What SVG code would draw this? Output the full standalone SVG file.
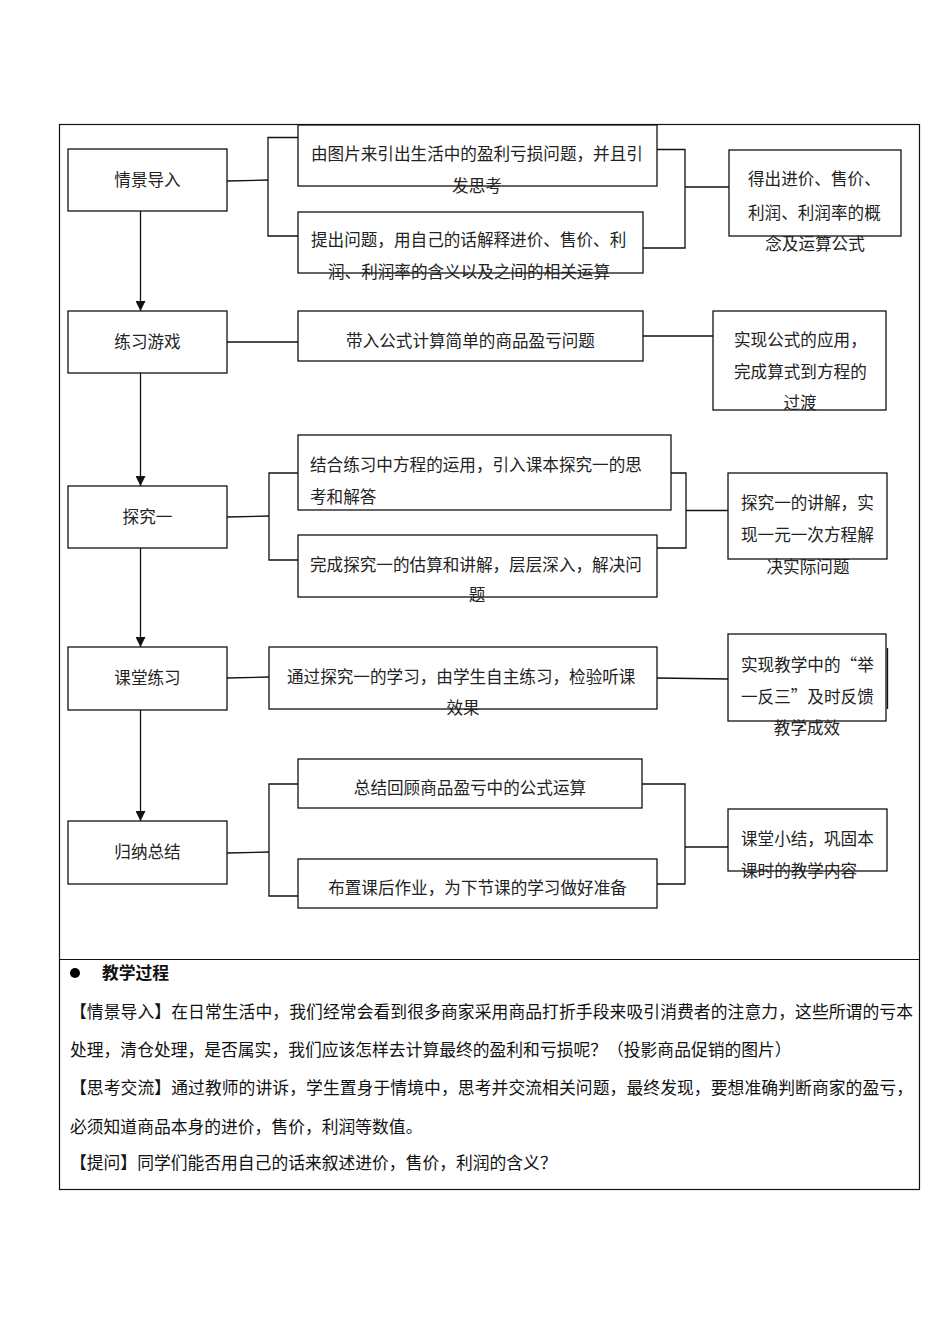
<svg xmlns="http://www.w3.org/2000/svg" width="950" height="1344" viewBox="0 0 950 1344">
<defs>
<style>
.bx{fill:#fff;stroke:#111;stroke-width:1.3}
.ln{fill:none;stroke:#111;stroke-width:1.3}
.t{font-family:"Noto Sans CJK SC","Noto Sans CJK JP",sans-serif;font-size:16.6px;fill:#222}
.c{text-anchor:middle}
.b{font-family:"Noto Sans CJK SC","Noto Sans CJK JP",sans-serif;font-size:16.8px;fill:#111}
</style>
<marker id="ah" viewBox="0 0 10 10" refX="10" refY="5" markerWidth="10" markerHeight="10" markerUnits="userSpaceOnUse" orient="auto">
<path d="M0,0 L10,5 L0,10 Z" fill="#111"/>
</marker>
</defs>
<rect width="950" height="1344" fill="#fff"/>
<g id="frame">
<rect x="59.5" y="124.5" width="860" height="1065" fill="none" stroke="#111" stroke-width="1.2"/>
<line x1="59.5" y1="959.5" x2="919.5" y2="959.5" stroke="#111" stroke-width="1.2"/>
</g>
<g id="connectors">
<line class="ln" x1="140.5" y1="211" x2="140.5" y2="311" marker-end="url(#ah)"/>
<line class="ln" x1="140.5" y1="373" x2="140.5" y2="486" marker-end="url(#ah)"/>
<line class="ln" x1="140.5" y1="548" x2="140.5" y2="647" marker-end="url(#ah)"/>
<line class="ln" x1="140.5" y1="710" x2="140.5" y2="821" marker-end="url(#ah)"/>
<polyline class="ln" points="227,181 268,180"/>
<polyline class="ln" points="298,137.5 268,137.5 268,236 298,236"/>
<polyline class="ln" points="657,149.5 685,149.5 685,248 643,248"/>
<polyline class="ln" points="685,187 729,187"/>
<polyline class="ln" points="227,342 298,342"/>
<polyline class="ln" points="643,336 713,336"/>
<polyline class="ln" points="227,517 269,516"/>
<polyline class="ln" points="298,473 269,473 269,560 298,560"/>
<polyline class="ln" points="671,473 686,473 686,548 657,548"/>
<polyline class="ln" points="686,510.5 728,510.5"/>
<polyline class="ln" points="227,678 269,677"/>
<polyline class="ln" points="657,678 728,679"/>
<polyline class="ln" points="227,853 269,852"/>
<polyline class="ln" points="298,784 269,784 269,896 298,896"/>
<polyline class="ln" points="642,784 685,784 685,884 657,884"/>
<polyline class="ln" points="685,847 728,847"/>
</g>
<g id="n-qjdr"><rect class="bx" x="68" y="149" width="159" height="62"/><text class="t c" x="147.5" y="186">情景导入</text></g>
<g id="n-lxyx"><rect class="bx" x="68" y="311" width="159" height="62"/><text class="t c" x="147.5" y="348">练习游戏</text></g>
<g id="n-tjy"><rect class="bx" x="68" y="486" width="159" height="62"/><text class="t c" x="147.5" y="523">探究一</text></g>
<g id="n-ktlx"><rect class="bx" x="68" y="647" width="159" height="63"/><text class="t c" x="147.5" y="684">课堂练习</text></g>
<g id="n-gnzj"><rect class="bx" x="68" y="821" width="159" height="63"/><text class="t c" x="147.5" y="858">归纳总结</text></g>

<g id="n-1a"><rect class="bx" x="298" y="125" width="359" height="61"/><text class="t" x="311" y="160">由图片来引出生活中的盈利亏损问题，并且引</text><text class="t c" x="477" y="192">发思考</text></g>
<g id="n-1b"><rect class="bx" x="298" y="212" width="345" height="61"/><text class="t" x="311" y="246">提出问题，用自己的话解释进价、售价、利</text><text class="t c" x="469" y="278">润、利润率的含义以及之间的相关运算</text></g>
<g id="n-1r"><rect class="bx" x="729" y="150" width="172" height="86"/><text class="t" x="748" y="185">得出进价、售价、</text><text class="t" x="748" y="219">利润、利润率的概</text><text class="t c" x="815" y="250">念及运算公式</text></g>

<g id="n-2a"><rect class="bx" x="298" y="311" width="345" height="50"/><text class="t c" x="470.5" y="347">带入公式计算简单的商品盈亏问题</text></g>
<g id="n-2r"><rect class="bx" x="713" y="311" width="173" height="99"/><text class="t" x="734" y="346">实现公式的应用，</text><text class="t" x="734" y="378">完成算式到方程的</text><text class="t c" x="800" y="409">过渡</text></g>

<g id="n-3a"><rect class="bx" x="298" y="435" width="373" height="75"/><text class="t" x="310" y="471">结合练习中方程的运用，引入课本探究一的思</text><text class="t" x="310" y="503">考和解答</text></g>
<g id="n-3b"><rect class="bx" x="298" y="535" width="359" height="62"/><text class="t" x="310" y="571">完成探究一的估算和讲解，层层深入，解决问</text><text class="t c" x="477" y="601">题</text></g>
<g id="n-3r"><rect class="bx" x="728" y="473" width="159" height="86"/><text class="t" x="741" y="509">探究一的讲解，实</text><text class="t" x="741" y="541">现一元一次方程解</text><text class="t c" x="808" y="573">决实际问题</text></g>

<g id="n-4a"><rect class="bx" x="269" y="647" width="388" height="62"/><text class="t" x="287" y="683">通过探究一的学习，由学生自主练习，检验听课</text><text class="t c" x="463" y="714">效果</text></g>
<g id="n-4r"><rect class="bx" x="728" y="634" width="158" height="87"/><line class="ln" x1="887.5" y1="648" x2="887.5" y2="709"/><text class="t" x="741" y="671">实现教学中的“举</text><text class="t" x="741" y="703">一反三”及时反馈</text><text class="t c" x="807" y="734">教学成效</text></g>

<g id="n-5a"><rect class="bx" x="298" y="759" width="344" height="49"/><text class="t c" x="470" y="794">总结回顾商品盈亏中的公式运算</text></g>
<g id="n-5b"><rect class="bx" x="298" y="859" width="359" height="49"/><text class="t c" x="477.5" y="894">布置课后作业，为下节课的学习做好准备</text></g>
<g id="n-5r"><rect class="bx" x="728" y="809" width="159" height="62"/><text class="t" x="741" y="845">课堂小结，巩固本</text><text class="t" x="741" y="877">课时的教学内容</text></g>

<g id="process">
<circle cx="75" cy="973" r="5" fill="#000"/>
<text class="b" x="102" y="979" font-weight="bold">教学过程</text>
<text class="b" x="70" y="1018" textLength="843" lengthAdjust="spacing">【情景导入】在日常生活中，我们经常会看到很多商家采用商品打折手段来吸引消费者的注意力，这些所谓的亏本</text>
<text class="b" x="70" y="1056">处理，清仓处理，是否属实，我们应该怎样去计算最终的盈利和亏损呢？（投影商品促销的图片）</text>
<text class="b" x="70" y="1094" textLength="843" lengthAdjust="spacing">【思考交流】通过教师的讲诉，学生置身于情境中，思考并交流相关问题，最终发现，要想准确判断商家的盈亏，</text>
<text class="b" x="70" y="1133">必须知道商品本身的进价，售价，利润等数值。</text>
<text class="b" x="70" y="1169">【提问】同学们能否用自己的话来叙述进价，售价，利润的含义？</text>
</g>
</svg>
